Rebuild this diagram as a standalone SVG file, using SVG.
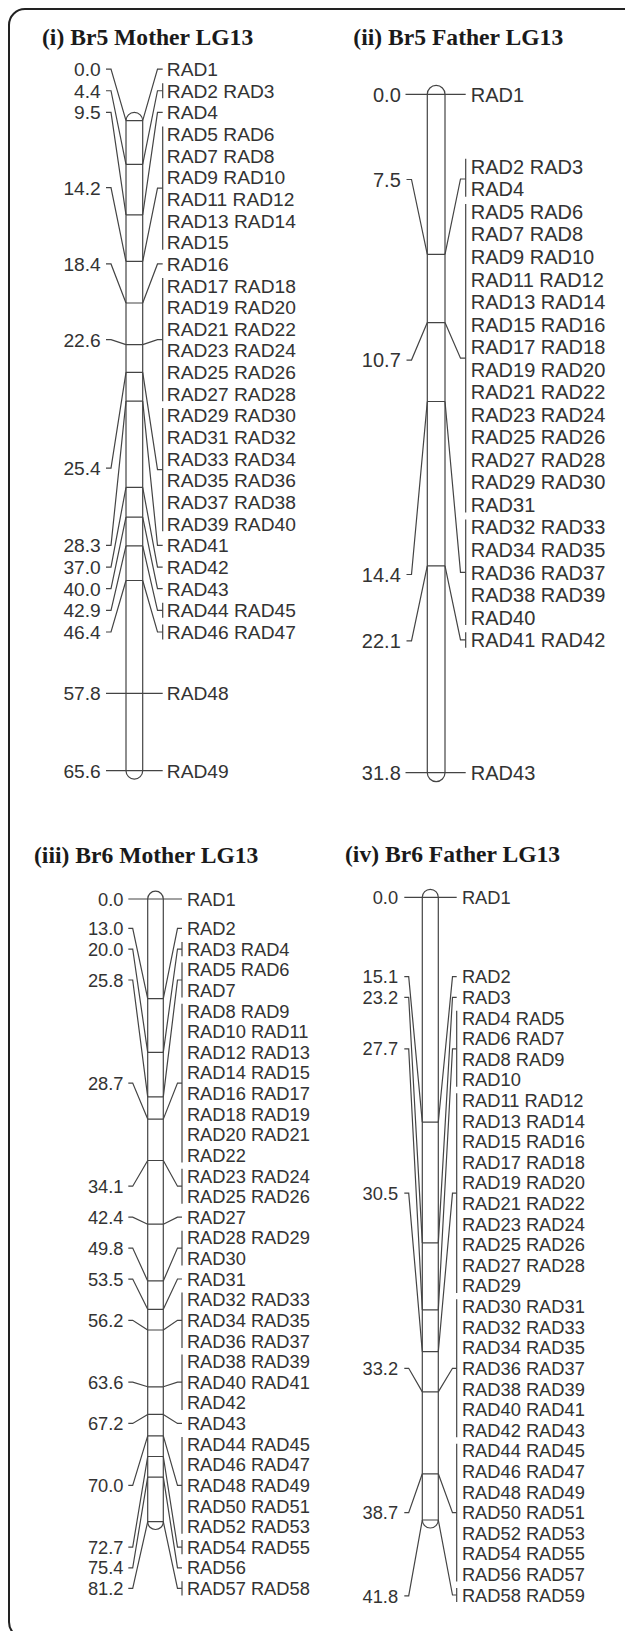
<svg xmlns="http://www.w3.org/2000/svg" width="625" height="1631" viewBox="0 0 625 1631">
<style>
.frame{fill:none;stroke:#222;stroke-width:2}
.ch{fill:#fff;stroke:#444;stroke-width:1.2}
.ln{fill:none;stroke:#444;stroke-width:1.2;stroke-linejoin:miter}
.title{font-family:"Liberation Serif","Times New Roman",serif;font-weight:bold;font-size:23.6px;fill:#1a1a1a}
.a{font-family:"Liberation Sans",Arial,sans-serif;font-size:19.2px;fill:#333}
.b{font-family:"Liberation Sans",Arial,sans-serif;font-size:20px;fill:#333}
.c{font-family:"Liberation Sans",Arial,sans-serif;font-size:18.3px;fill:#333}
.e{text-anchor:end}
</style>
<rect class="frame" x="9" y="9" width="630" height="1629" rx="16" ry="16"/>

<!-- Panel i -->
<g id="p1-title"><text class="title" x="42" y="45">(i) Br5 Mother LG13</text></g>
<g id="p1-chromosome">
<path class="ch" d="M126 120.7A8.35 8.35 0 0 1 142.7 120.7V770.7A8.35 8.35 0 0 1 126 770.7Z"/>
<path class="ln" d="M126 120.7H142.7M126 164.3H142.7M126 214.8H142.7M126 261.4H142.7M126 303H142.7M126 344.6H142.7M126 372.4H142.7M126 401.1H142.7M126 487.3H142.7M126 517.1H142.7M126 545.8H142.7M126 580.5H142.7"/>
</g>
<g id="p1-positions">
<text class="a e" x="100.8" y="76">0.0</text>
<text class="a e" x="100.8" y="97.65">4.4</text>
<text class="a e" x="100.8" y="119.3">9.5</text>
<text class="a e" x="100.8" y="194.5">14.2</text>
<text class="a e" x="100.8" y="270.85">18.4</text>
<text class="a e" x="100.8" y="346.6">22.6</text>
<text class="a e" x="100.8" y="475">25.4</text>
<text class="a e" x="100.8" y="552.3">28.3</text>
<text class="a e" x="100.8" y="573.95">37.0</text>
<text class="a e" x="100.8" y="595.6">40.0</text>
<text class="a e" x="100.8" y="617.25">42.9</text>
<text class="a e" x="100.8" y="638.9">46.4</text>
<text class="a e" x="100.8" y="700.3">57.8</text>
<text class="a e" x="100.8" y="777.6">65.6</text>
</g>
<g id="p1-markers">
<text class="a" x="166.8" y="76">RAD1</text>
<text class="a" x="166.8" y="97.65">RAD2 RAD3</text>
<text class="a" x="166.8" y="119.3">RAD4</text>
<text class="a" x="166.8" y="140.95">RAD5 RAD6</text>
<text class="a" x="166.8" y="162.6">RAD7 RAD8</text>
<text class="a" x="166.8" y="184.25">RAD9 RAD10</text>
<text class="a" x="166.8" y="205.9">RAD11 RAD12</text>
<text class="a" x="166.8" y="227.55">RAD13 RAD14</text>
<text class="a" x="166.8" y="249.2">RAD15</text>
<text class="a" x="166.8" y="270.85">RAD16</text>
<text class="a" x="166.8" y="292.5">RAD17 RAD18</text>
<text class="a" x="166.8" y="314.15">RAD19 RAD20</text>
<text class="a" x="166.8" y="335.8">RAD21 RAD22</text>
<text class="a" x="166.8" y="357.45">RAD23 RAD24</text>
<text class="a" x="166.8" y="379.1">RAD25 RAD26</text>
<text class="a" x="166.8" y="400.75">RAD27 RAD28</text>
<text class="a" x="166.8" y="422.4">RAD29 RAD30</text>
<text class="a" x="166.8" y="444.05">RAD31 RAD32</text>
<text class="a" x="166.8" y="465.7">RAD33 RAD34</text>
<text class="a" x="166.8" y="487.35">RAD35 RAD36</text>
<text class="a" x="166.8" y="509">RAD37 RAD38</text>
<text class="a" x="166.8" y="530.65">RAD39 RAD40</text>
<text class="a" x="166.8" y="552.3">RAD41</text>
<text class="a" x="166.8" y="573.95">RAD42</text>
<text class="a" x="166.8" y="595.6">RAD43</text>
<text class="a" x="166.8" y="617.25">RAD44 RAD45</text>
<text class="a" x="166.8" y="638.9">RAD46 RAD47</text>
<text class="a" x="166.8" y="700.3">RAD48</text>
<text class="a" x="166.8" y="777.6">RAD49</text>
</g>

<!-- Panel ii -->
<g id="p2-title"><text class="title" x="353.3" y="45">(ii) Br5 Father LG13</text></g>
<g id="p2-chromosome">
<path class="ch" d="M427.3 94.3A8.85 8.85 0 0 1 445 94.3V772.7A8.85 8.85 0 0 1 427.3 772.7Z"/>
<path class="ln" d="M427.3 254.3H445M427.3 322.6H445M427.3 401.5H445M427.3 565.8H445"/>
</g>
<g id="p2-positions">
<text class="b e" x="400.8" y="101.5">0.0</text>
<text class="b e" x="400.8" y="186.7">7.5</text>
<text class="b e" x="400.8" y="367.3">10.7</text>
<text class="b e" x="400.8" y="581.7">14.4</text>
<text class="b e" x="400.8" y="648">22.1</text>
<text class="b e" x="400.8" y="779.9">31.8</text>
</g>
<g id="p2-markers">
<text class="b" x="470.8" y="101.5">RAD1</text>
<text class="b" x="470.8" y="173.8">RAD2 RAD3</text>
<text class="b" x="470.8" y="196.34">RAD4</text>
<text class="b" x="470.8" y="218.88">RAD5 RAD6</text>
<text class="b" x="470.8" y="241.42">RAD7 RAD8</text>
<text class="b" x="470.8" y="263.96">RAD9 RAD10</text>
<text class="b" x="470.8" y="286.5">RAD11 RAD12</text>
<text class="b" x="470.8" y="309.04">RAD13 RAD14</text>
<text class="b" x="470.8" y="331.58">RAD15 RAD16</text>
<text class="b" x="470.8" y="354.12">RAD17 RAD18</text>
<text class="b" x="470.8" y="376.66">RAD19 RAD20</text>
<text class="b" x="470.8" y="399.2">RAD21 RAD22</text>
<text class="b" x="470.8" y="421.74">RAD23 RAD24</text>
<text class="b" x="470.8" y="444.28">RAD25 RAD26</text>
<text class="b" x="470.8" y="466.82">RAD27 RAD28</text>
<text class="b" x="470.8" y="489.36">RAD29 RAD30</text>
<text class="b" x="470.8" y="511.9">RAD31</text>
<text class="b" x="470.8" y="534.44">RAD32 RAD33</text>
<text class="b" x="470.8" y="556.98">RAD34 RAD35</text>
<text class="b" x="470.8" y="579.52">RAD36 RAD37</text>
<text class="b" x="470.8" y="602.06">RAD38 RAD39</text>
<text class="b" x="470.8" y="624.6">RAD40</text>
<text class="b" x="470.8" y="647.14">RAD41 RAD42</text>
<text class="b" x="470.8" y="779.9">RAD43</text>
</g>

<!-- Panel iii -->
<g id="p3-title"><text class="title" x="34" y="863.3">(iii) Br6 Mother LG13</text></g>
<g id="p3-chromosome">
<path class="ch" d="M147.7 899A7.8 7.8 0 0 1 163.3 899V1521.7A7.8 7.8 0 0 1 147.7 1521.7Z"/>
<path class="ln" d="M147.7 998.7H163.3M147.7 1052.4H163.3M147.7 1096.9H163.3M147.7 1119.1H163.3M147.7 1160.5H163.3M147.7 1224.2H163.3M147.7 1280.9H163.3M147.7 1309.3H163.3M147.7 1330H163.3M147.7 1386.8H163.3M147.7 1414.4H163.3M147.7 1435.8H163.3M147.7 1456.5H163.3M147.7 1477.2H163.3M147.7 1521.7H163.3"/>
</g>
<g id="p3-positions">
<text class="c e" x="123.5" y="905.6">0.0</text>
<text class="c e" x="123.5" y="935">13.0</text>
<text class="c e" x="123.5" y="955.63">20.0</text>
<text class="c e" x="123.5" y="986.6">25.8</text>
<text class="c e" x="123.5" y="1089.7">28.7</text>
<text class="c e" x="123.5" y="1192.8">34.1</text>
<text class="c e" x="123.5" y="1223.75">42.4</text>
<text class="c e" x="123.5" y="1254.7">49.8</text>
<text class="c e" x="123.5" y="1285.63">53.5</text>
<text class="c e" x="123.5" y="1326.9">56.2</text>
<text class="c e" x="123.5" y="1388.75">63.6</text>
<text class="c e" x="123.5" y="1430">67.2</text>
<text class="c e" x="123.5" y="1491.9">70.0</text>
<text class="c e" x="123.5" y="1553.75">72.7</text>
<text class="c e" x="123.5" y="1574.38">75.4</text>
<text class="c e" x="123.5" y="1595">81.2</text>
</g>
<g id="p3-markers">
<text class="c" x="186.9" y="905.6">RAD1</text>
<text class="c" x="186.9" y="935">RAD2</text>
<text class="c" x="186.9" y="955.63">RAD3 RAD4</text>
<text class="c" x="186.9" y="976.25">RAD5 RAD6</text>
<text class="c" x="186.9" y="996.88">RAD7</text>
<text class="c" x="186.9" y="1017.5">RAD8 RAD9</text>
<text class="c" x="186.9" y="1038.13">RAD10 RAD11</text>
<text class="c" x="186.9" y="1058.75">RAD12 RAD13</text>
<text class="c" x="186.9" y="1079.38">RAD14 RAD15</text>
<text class="c" x="186.9" y="1100">RAD16 RAD17</text>
<text class="c" x="186.9" y="1120.63">RAD18 RAD19</text>
<text class="c" x="186.9" y="1141.25">RAD20 RAD21</text>
<text class="c" x="186.9" y="1161.88">RAD22</text>
<text class="c" x="186.9" y="1182.5">RAD23 RAD24</text>
<text class="c" x="186.9" y="1203.13">RAD25 RAD26</text>
<text class="c" x="186.9" y="1223.75">RAD27</text>
<text class="c" x="186.9" y="1244.38">RAD28 RAD29</text>
<text class="c" x="186.9" y="1265">RAD30</text>
<text class="c" x="186.9" y="1285.63">RAD31</text>
<text class="c" x="186.9" y="1306.25">RAD32 RAD33</text>
<text class="c" x="186.9" y="1326.88">RAD34 RAD35</text>
<text class="c" x="186.9" y="1347.5">RAD36 RAD37</text>
<text class="c" x="186.9" y="1368.13">RAD38 RAD39</text>
<text class="c" x="186.9" y="1388.75">RAD40 RAD41</text>
<text class="c" x="186.9" y="1409.38">RAD42</text>
<text class="c" x="186.9" y="1430">RAD43</text>
<text class="c" x="186.9" y="1450.63">RAD44 RAD45</text>
<text class="c" x="186.9" y="1471.25">RAD46 RAD47</text>
<text class="c" x="186.9" y="1491.88">RAD48 RAD49</text>
<text class="c" x="186.9" y="1512.5">RAD50 RAD51</text>
<text class="c" x="186.9" y="1533.13">RAD52 RAD53</text>
<text class="c" x="186.9" y="1553.75">RAD54 RAD55</text>
<text class="c" x="186.9" y="1574.38">RAD56</text>
<text class="c" x="186.9" y="1595">RAD57 RAD58</text>
</g>

<!-- Panel iv -->
<g id="p4-title"><text class="title" x="345" y="861.7">(iv) Br6 Father LG13</text></g>
<g id="p4-chromosome">
<path class="ch" d="M422.3 897.3A8 8 0 0 1 438.3 897.3V1520A8 8 0 0 1 422.3 1520Z"/>
<path class="ln" d="M422.3 1122.2H438.3M422.3 1242.9H438.3M422.3 1309.9H438.3M422.3 1351.7H438.3M422.3 1391.9H438.3M422.3 1473.8H438.3M422.3 1520H438.3"/>
</g>
<g id="p4-positions">
<text class="c e" x="398.1" y="903.9">0.0</text>
<text class="c e" x="398.1" y="983.3">15.1</text>
<text class="c e" x="398.1" y="1003.91">23.2</text>
<text class="c e" x="398.1" y="1055.4">27.7</text>
<text class="c e" x="398.1" y="1199.7">30.5</text>
<text class="c e" x="398.1" y="1374.9">33.2</text>
<text class="c e" x="398.1" y="1519.2">38.7</text>
<text class="c e" x="398.1" y="1602.5">41.8</text>
</g>
<g id="p4-markers">
<text class="c" x="461.9" y="903.9">RAD1</text>
<text class="c" x="461.9" y="983.3">RAD2</text>
<text class="c" x="461.9" y="1003.91">RAD3</text>
<text class="c" x="461.9" y="1024.52">RAD4 RAD5</text>
<text class="c" x="461.9" y="1045.13">RAD6 RAD7</text>
<text class="c" x="461.9" y="1065.74">RAD8 RAD9</text>
<text class="c" x="461.9" y="1086.35">RAD10</text>
<text class="c" x="461.9" y="1106.96">RAD11 RAD12</text>
<text class="c" x="461.9" y="1127.57">RAD13 RAD14</text>
<text class="c" x="461.9" y="1148.18">RAD15 RAD16</text>
<text class="c" x="461.9" y="1168.79">RAD17 RAD18</text>
<text class="c" x="461.9" y="1189.4">RAD19 RAD20</text>
<text class="c" x="461.9" y="1210.01">RAD21 RAD22</text>
<text class="c" x="461.9" y="1230.62">RAD23 RAD24</text>
<text class="c" x="461.9" y="1251.23">RAD25 RAD26</text>
<text class="c" x="461.9" y="1271.84">RAD27 RAD28</text>
<text class="c" x="461.9" y="1292.45">RAD29</text>
<text class="c" x="461.9" y="1313.06">RAD30 RAD31</text>
<text class="c" x="461.9" y="1333.67">RAD32 RAD33</text>
<text class="c" x="461.9" y="1354.28">RAD34 RAD35</text>
<text class="c" x="461.9" y="1374.89">RAD36 RAD37</text>
<text class="c" x="461.9" y="1395.5">RAD38 RAD39</text>
<text class="c" x="461.9" y="1416.11">RAD40 RAD41</text>
<text class="c" x="461.9" y="1436.72">RAD42 RAD43</text>
<text class="c" x="461.9" y="1457.33">RAD44 RAD45</text>
<text class="c" x="461.9" y="1477.94">RAD46 RAD47</text>
<text class="c" x="461.9" y="1498.55">RAD48 RAD49</text>
<text class="c" x="461.9" y="1519.16">RAD50 RAD51</text>
<text class="c" x="461.9" y="1539.77">RAD52 RAD53</text>
<text class="c" x="461.9" y="1560.38">RAD54 RAD55</text>
<text class="c" x="461.9" y="1580.99">RAD56 RAD57</text>
<text class="c" x="461.9" y="1601.6">RAD58 RAD59</text>
</g>

<g id="connectors" class="ln">
<!-- panel i left -->
<path d="M106 69.1H111L126 120.7M106 90.75H111L126 164.3M106 112.4H111L126 214.8M106 187.6H111L126 261.4M106 263.95H111L126 303M106 339.7H111L126 344.6M106 468.1H111L126 372.4M106 545.4H111L126 401.1M106 567.05H111L126 487.3M106 588.7H111L126 517.1M106 610.35H111L126 545.8M106 632H111L126 580.5"/>
<path d="M106 693.4H162.7M106 770.7H162.7"/>
<!-- panel i right -->
<path d="M142.7 120.7L157.5 69.1H162.7M142.7 164.3L157.5 90.75H162.7M142.7 214.8L157.5 112.4H162.7M142.7 261.4L157.5 188.2H162.7M142.7 303L157.5 263.95H162.7M142.7 344.6L157.5 339.7H162.7M142.7 372.4L157.5 469.6H162.7M142.7 401.1L157.5 545.4H162.7M142.7 487.3L157.5 567.05H162.7M142.7 517.1L157.5 588.7H162.7M142.7 545.8L157.5 610.35H162.7M142.7 580.5L157.5 632H162.7"/>
<path d="M162.7 83.25V98.15M162.7 126.55V249.7M162.7 278.1V401.25M162.7 408V531.15M162.7 602.85V617.75M162.7 624.5V639.4"/>
<!-- panel ii -->
<path d="M405.5 94.3H465.7M405.5 772.7H465.7"/>
<path d="M406.5 179.5H411.5L427.3 254.3M406.5 360.1H411.5L427.3 322.6M406.5 574.5H411.5L427.3 401.5M406.5 640.8H411.5L427.3 565.8"/>
<path d="M445 254.3L460.5 179H465.7M445 322.6L460.5 358.2H465.7M445 401.5L460.5 572.3H465.7M445 565.8L460.5 639.9H465.7"/>
<path d="M465.7 158.8V196.84M465.7 203.88V512.4M465.7 519.44V625.1M465.7 632.14V647.64"/>
<!-- panel iii -->
<path d="M128.3 899H182"/>
<path d="M128.3 928.4H132.7L147.7 998.7M128.3 949.03H132.7L147.7 1052.4M128.3 980H132.7L147.7 1096.9M128.3 1083.1H132.7L147.7 1119.1M128.3 1186.2H132.7L147.7 1160.5M128.3 1217.15H132.7L147.7 1224.2M128.3 1248.1H132.7L147.7 1280.9M128.3 1279.03H132.7L147.7 1309.3M128.3 1320.3H132.7L147.7 1330M128.3 1382.15H132.7L147.7 1386.8M128.3 1423.4H132.7L147.7 1414.4M128.3 1485.3H132.7L147.7 1435.8M128.3 1547.15H132.7L147.7 1456.5M128.3 1567.78H132.7L147.7 1477.2M128.3 1588.4H132.7L147.7 1521.7"/>
<path d="M163.3 998.7L177.5 928.4H182M163.3 1052.4L177.5 949.03H182M163.3 1096.9L177.5 980H182M163.3 1119.1L177.5 1083.1H182M163.3 1160.5L177.5 1186.2H182M163.3 1224.2L177.5 1217.15H182M163.3 1280.9L177.5 1248.1H182M163.3 1309.3L177.5 1279H182M163.3 1330L177.5 1320.3H182M163.3 1386.8L177.5 1382.15H182M163.3 1414.4L177.5 1423.4H182M163.3 1435.8L177.5 1485.3H182M163.3 1456.5L177.5 1547.15H182M163.3 1477.2L177.5 1567.8H182M163.3 1521.7L177.5 1588.4H182"/>
<path d="M182 941.93V956.13M182 962.55V997.38M182 1003.8V1162.38M182 1168.8V1203.63M182 1230.68V1265.5M182 1292.55V1348M182 1354.43V1409.88M182 1436.93V1533.63M182 1540.05V1554.25M182 1581.3V1595.5"/>
<!-- panel iv -->
<path d="M404.3 897.3H456.7"/>
<path d="M404.3 976.7H408.7L422.3 1122.2M404.3 997.31H408.7L422.3 1242.9M404.3 1048.8H408.7L422.3 1309.9M404.3 1193.1H408.7L422.3 1351.7M404.3 1368.3H408.7L422.3 1391.9M404.3 1512.6H408.7L422.3 1473.8M404.3 1595.9H408.7L422.3 1520"/>
<path d="M438.3 1122.2L452.5 976.7H456.7M438.3 1242.9L452.5 997.3H456.7M438.3 1309.9L452.5 1048.8H456.7M438.3 1351.7L452.5 1193.1H456.7M438.3 1391.9L452.5 1368.3H456.7M438.3 1473.8L452.5 1512.6H456.7M438.3 1520L452.5 1595H456.7"/>
<path d="M456.7 1010.82V1086.85M456.7 1093.26V1292.95M456.7 1299.36V1437.22M456.7 1443.63V1581.49M456.7 1587.9V1602.1"/>
</g>
</svg>
